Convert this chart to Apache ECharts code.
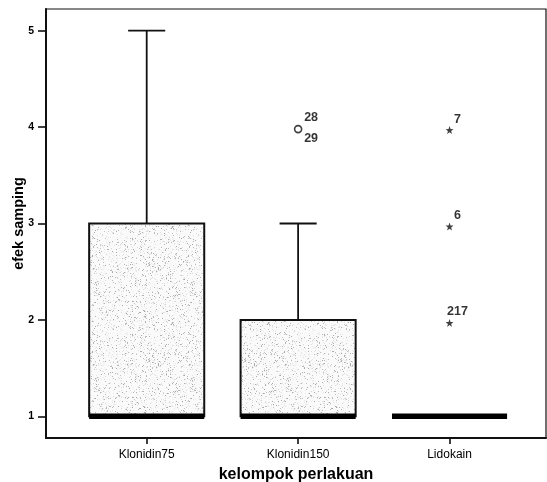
<!DOCTYPE html>
<html>
<head>
<meta charset="utf-8">
<script src="https://cdn.jsdelivr.net/npm/echarts@6/dist/echarts.min.js"></script>
<style>
  html, body { margin: 0; padding: 0; background: #fff; }
  #chart { width: 547px; height: 482px; }
</style>
</head>
<body>
<div id="chart"></div>
<script>
// Treatment groups and side-effect scores (efek samping)
const categories = ['Klonidin75', 'Klonidin150', 'Lidokain'];
// five-number summaries per group: min, Q1, median, Q3, max
const boxMin    = [1, 1, 1];
const boxQ1     = [1, 1, 1];
const boxMedian = [1, 1, 1];
const boxQ3     = [3, 2, 1];
const boxMax    = [5, 3, 1];
// outliers (circle): group index, value, case number
const outlierGroup = [1, 1];
const outlierValue = [4, 4];
const outlierCase  = ['28', '29'];
// extremes (star): group index, value, case number
const extremeGroup = [2, 2, 2];
const extremeValue = [4, 3, 2];
const extremeCase  = ['7', '6', '217'];
const yTicks = [1, 2, 3, 4, 5];
const xTicks = [0, 1, 2];

const FONT = '"Liberation Sans", Arial, sans-serif';
const BOX_W = 0.76;   // box width in category units
const CAP_W = 0.245;  // whisker cap width

// stippled grey texture for box fill (deterministic hash noise)
function makeStipple() {
  const size = 96;
  const c = document.createElement('canvas');
  c.width = size; c.height = size;
  const ctx = c.getContext('2d');
  ctx.fillStyle = '#fafafa';
  ctx.fillRect(0, 0, size, size);
  const img = ctx.getImageData(0, 0, size, size);
  for (let y = 0; y < size; y++) {
    for (let x = 0; x < size; x++) {
      const h = Math.sin(x * 12.9898 + y * 78.233) * 43758.5453;
      const f = h - Math.floor(h);
      const idx = (y * size + x) * 4;
      let v = 250;
      if (f < 0.06) v = 165 + f * 600;
      else if (f < 0.17) v = 215 + (f - 0.06) * 250;
      img.data[idx] = img.data[idx + 1] = img.data[idx + 2] = v;
      img.data[idx + 3] = 255;
    }
  }
  ctx.putImageData(img, 0, 0);
  return c;
}
const stipple = makeStipple();

const boxData = categories.map((_, i) => [i, boxMin[i], boxQ1[i], boxMedian[i], boxQ3[i], boxMax[i]]);

function renderBox(params, api) {
  const x = api.value(0);
  const mn = api.value(1), q1 = api.value(2), md = api.value(3), q3 = api.value(4), mx = api.value(5);
  const half = api.size([BOX_W, 0])[0] / 2;
  const capHalf = api.size([CAP_W, 0])[0] / 2;
  const cx = api.coord([x, md])[0];
  const yMin = api.coord([x, mn])[1];
  const yQ1 = api.coord([x, q1])[1];
  const yMd = api.coord([x, md])[1];
  const yQ3 = api.coord([x, q3])[1];
  const yMax = api.coord([x, mx])[1];
  const line = { stroke: '#111', lineWidth: 1.8 };
  const children = [];
  if (mx > q3) {
    children.push({ type: 'line', shape: { x1: cx, y1: yQ3, x2: cx, y2: yMax }, style: line });
    children.push({ type: 'line', shape: { x1: cx - capHalf, y1: yMax, x2: cx + capHalf, y2: yMax }, style: line });
  }
  if (mn < q1) {
    children.push({ type: 'line', shape: { x1: cx, y1: yQ1, x2: cx, y2: yMin }, style: line });
    children.push({ type: 'line', shape: { x1: cx - capHalf, y1: yMin, x2: cx + capHalf, y2: yMin }, style: line });
  }
  if (q3 > q1) {
    children.push({
      type: 'rect',
      shape: { x: cx - half, y: yQ3, width: half * 2, height: yQ1 - yQ3 },
      style: { fill: { image: stipple, repeat: 'repeat' }, stroke: '#111', lineWidth: 2 }
    });
  }
  children.push({
    type: 'line',
    shape: { x1: cx - half, y1: yMd, x2: cx + half, y2: yMd },
    style: { stroke: '#000', lineWidth: 5.5 }
  });
  return { type: 'group', children };
}

// group identical outlier points so their case labels stack around one symbol
function groupPoints(groups, values, cases) {
  const map = new Map();
  groups.forEach((g, i) => {
    const k = g + '|' + values[i];
    if (!map.has(k)) map.set(k, { value: [g, values[i]], cases: [] });
    map.get(k).cases.push(cases[i]);
  });
  return Array.from(map.values());
}
const outlierPts = groupPoints(outlierGroup, outlierValue, outlierCase).map(p => ({
  value: p.value,
  label: { formatter: p.cases.join('\n'), offset: p.cases.length > 1 ? [13, -1] : [12, -10] }
}));
const extremePts = groupPoints(extremeGroup, extremeValue, extremeCase).map(p => ({
  value: p.value,
  label: { formatter: p.cases.join('\n') }
}));

const STAR = 'path://M0,-10L2.35,-3.24L9.51,-3.09L3.8,1.24L5.88,8.09L0,4L-5.88,8.09L-3.8,1.24L-9.51,-3.09L-2.35,-3.24Z';

const chart = echarts.init(document.getElementById('chart'), null, { renderer: 'canvas' });
chart.setOption({
  animation: false,
  backgroundColor: '#fff',
  grid: {
    left: 46, top: 9, width: 500, height: 429,
    containLabel: false, outerBoundsMode: 'none',
    show: true, borderColor: '#111', borderWidth: 1.2, backgroundColor: 'transparent'
  },
  xAxis: {
    type: 'value',
    min: -0.665, max: 2.637,
    name: 'kelompok perlakuan',
    nameLocation: 'middle',
    nameGap: 29,
    nameMoveOverlap: false,
    nameTextStyle: { fontFamily: FONT, fontWeight: 'bold', fontSize: 16, color: '#000' },
    axisLine: { show: true, onZero: false, lineStyle: { color: '#111', width: 2 } },
    axisTick: { show: true, customValues: xTicks, length: 6, lineStyle: { color: '#111', width: 1.6 } },
    axisLabel: {
      customValues: xTicks, margin: 11,
      formatter: v => categories[Math.round(v)],
      fontFamily: FONT, fontSize: 12, color: '#000'
    },
    splitLine: { show: false }
  },
  yAxis: {
    type: 'value',
    min: 0.775, max: 5.225,
    name: 'efek samping',
    nameLocation: 'middle',
    nameRotate: 90,
    nameGap: 20,
    nameMoveOverlap: false,
    nameTextStyle: { fontFamily: FONT, fontWeight: 'bold', fontSize: 14.5, color: '#000' },
    axisLine: { show: true, onZero: false, lineStyle: { color: '#111', width: 2 } },
    axisTick: { show: true, customValues: yTicks, length: 8, lineStyle: { color: '#111', width: 1.6 } },
    axisLabel: {
      customValues: yTicks, margin: 12,
      fontFamily: FONT, fontWeight: 'bold', fontSize: 10.5, color: '#000'
    },
    splitLine: { show: false }
  },
  series: [
    {
      type: 'custom',
      renderItem: renderBox,
      data: boxData,
      encode: { x: 0, y: [1, 2, 3, 4, 5] },
      z: 2
    },
    {
      type: 'scatter',
      data: outlierPts,
      symbol: 'circle',
      symbolSize: 7,
      symbolOffset: [0, 2],
      itemStyle: { color: '#fff', borderColor: '#111', borderWidth: 1.6 },
      label: {
        show: true, position: 'inside', align: 'center', verticalAlign: 'middle',
        fontFamily: FONT, fontSize: 12.5, fontWeight: 'bold', lineHeight: 21, color: '#000'
      },
      z: 3
    },
    {
      type: 'scatter',
      data: extremePts,
      symbol: STAR,
      symbolSize: 8,
      symbolOffset: [0, 3],
      itemStyle: { color: '#111' },
      label: {
        show: true, position: 'inside', offset: [8, -11], align: 'center', verticalAlign: 'middle',
        fontFamily: FONT, fontSize: 12.5, fontWeight: 'bold', color: '#000'
      },
      z: 3
    }
  ]
});
</script>
</body>
</html>
